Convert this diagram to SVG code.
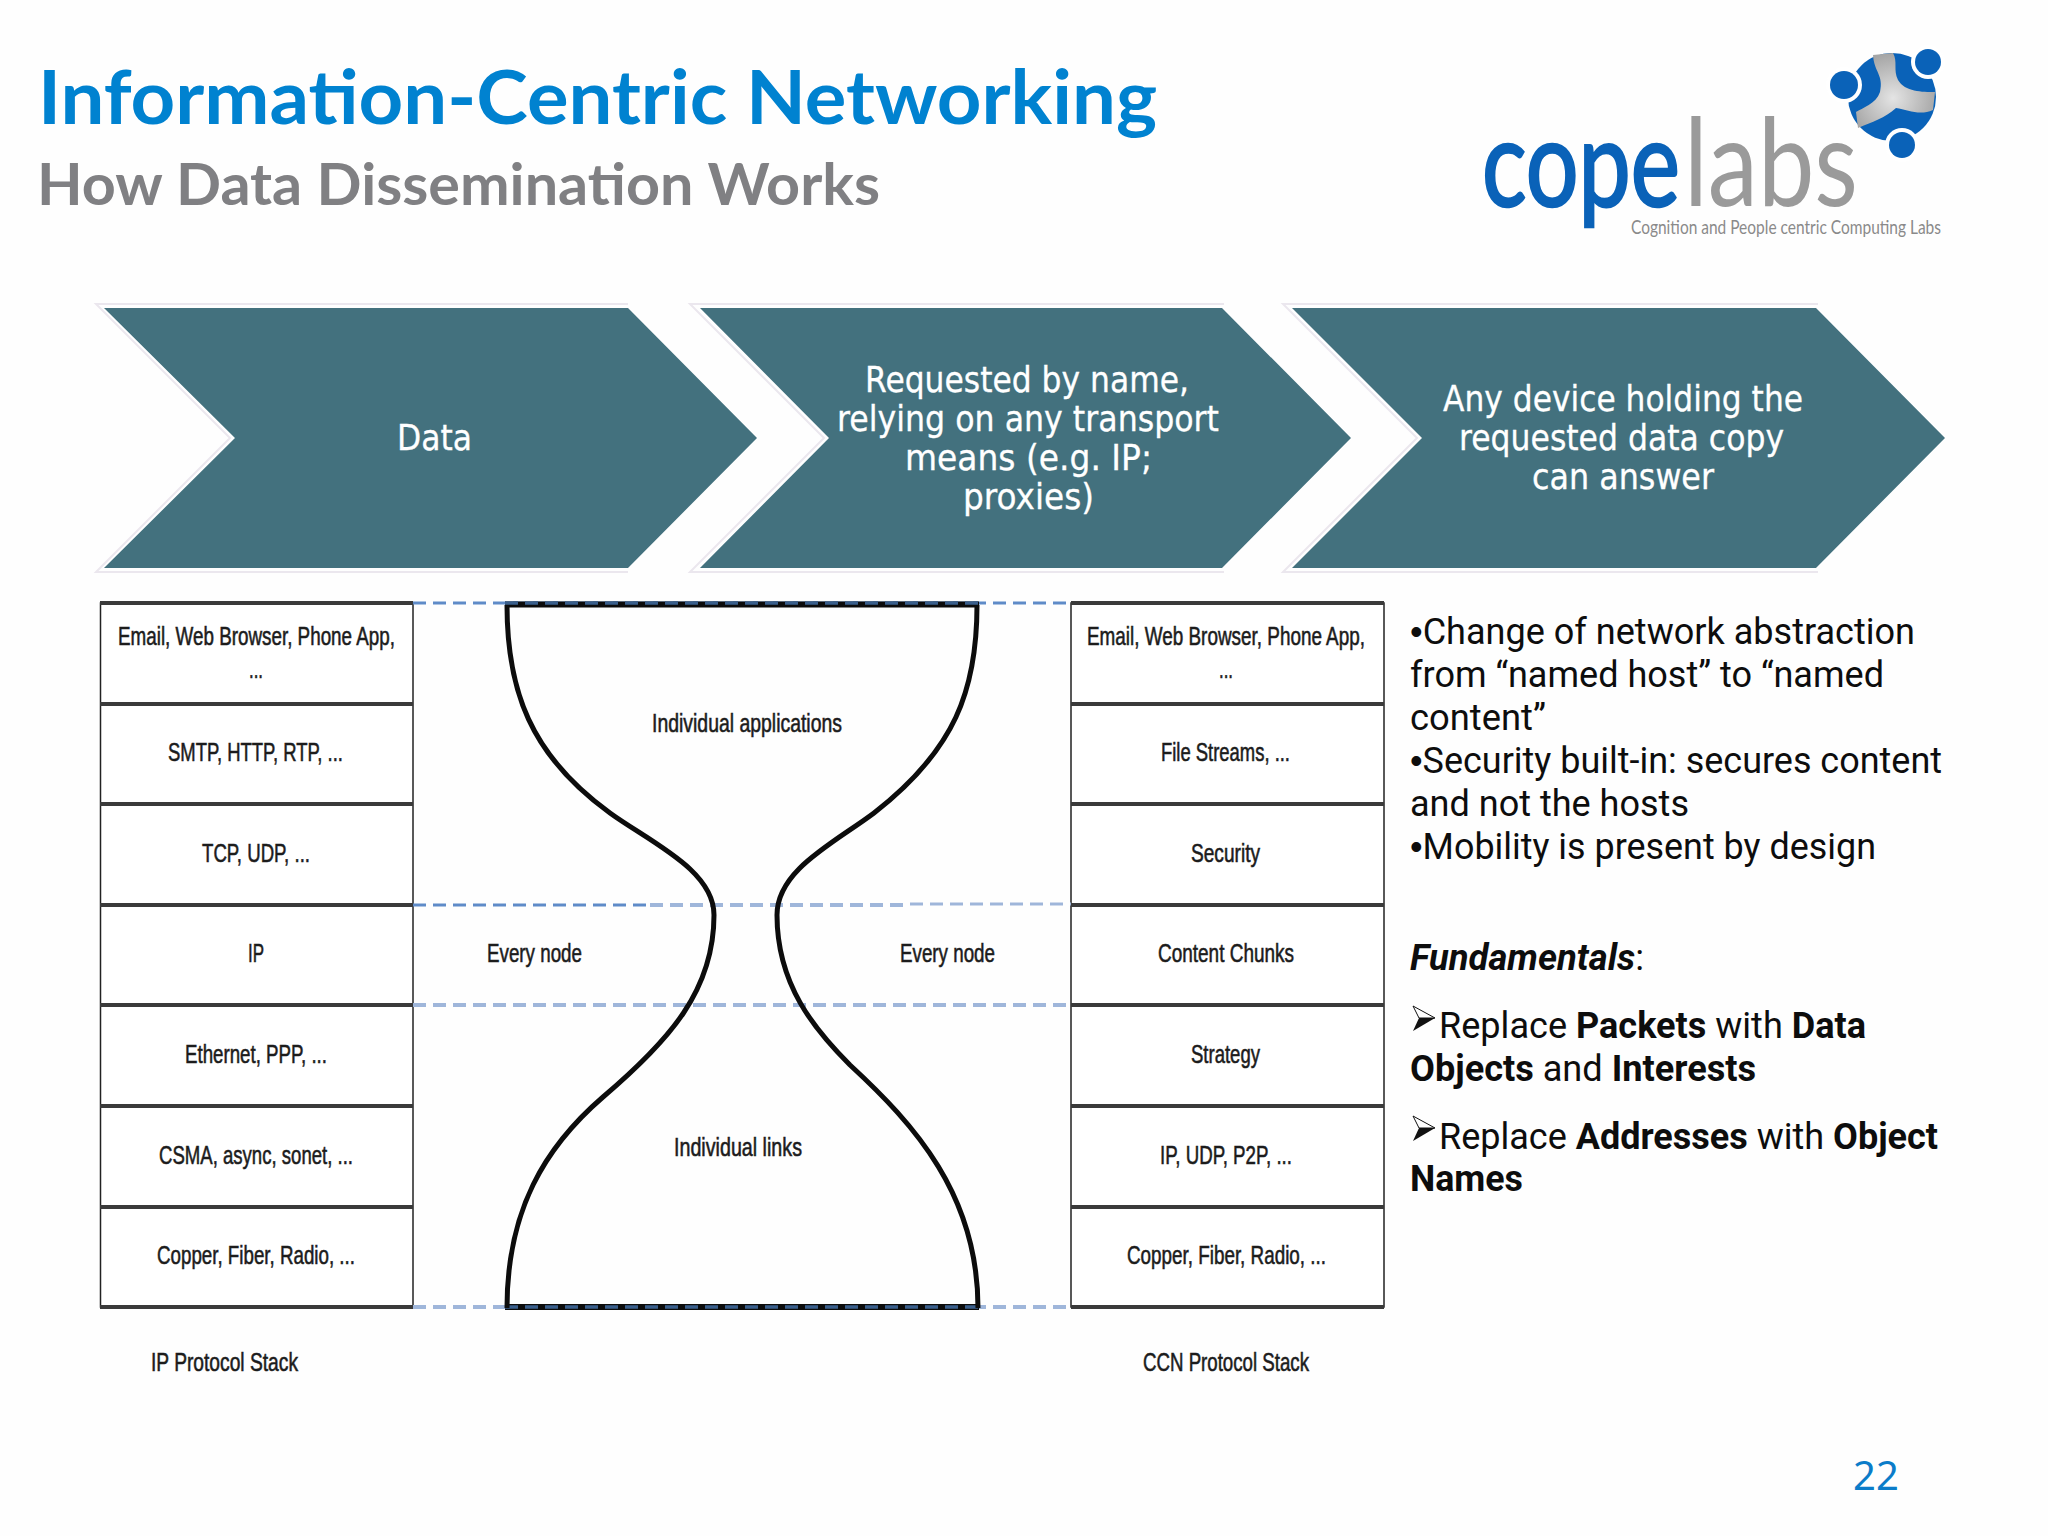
<svg xmlns="http://www.w3.org/2000/svg" width="2048" height="1536" viewBox="0 0 2048 1536">
<style>
.s{font-family:"Liberation Sans",Arial,sans-serif;font-size:25px;fill:#1c1c1c;stroke:#1c1c1c;stroke-width:.55}
.b{font-family:Roboto,sans-serif;font-size:36px;fill:#0d0d0d}
.bb{font-weight:700}
.bu{font-family:"Liberation Sans",sans-serif}
.c{font-family:"DejaVu Sans",sans-serif;font-size:35px;fill:#fff;stroke:#fff;stroke-width:.3}
.chev{fill:#43717e}
.frame{fill:none;stroke:#ebe7ee;stroke-width:2}
.box{fill:#fff;stroke:#222;stroke-width:1.5}
.rule{stroke:#3a3a3a;stroke-width:4}
.dash{stroke:#5f8bc8;stroke-width:3;stroke-dasharray:13 7;fill:none}
.dash2{stroke:#9fb6da;stroke-width:4;stroke-dasharray:13 7;fill:none}
.hg{fill:none;stroke:#0c0c0c;stroke-width:5}
</style>
<defs>
<radialGradient id="metal" gradientUnits="userSpaceOnUse" cx="1893" cy="98" r="44"><stop offset="0" stop-color="#e4e4e4"/><stop offset="1" stop-color="#a6a6a6"/></radialGradient>
</defs>
<rect width="2048" height="1536" fill="#fefefe"/>
<g id="title">
<text x="38" y="124" font-family="Lato,sans-serif" font-weight="700" font-size="75" fill="#0082d0" textLength="1119" lengthAdjust="spacingAndGlyphs">Information-Centric Networking</text>
<text x="37" y="205" font-family="Lato,sans-serif" font-weight="700" font-size="57" fill="#808083" textLength="843" lengthAdjust="spacingAndGlyphs">How Data Dissemination Works</text>
</g>
<g id="logo">
<circle cx="1892" cy="97" r="44" fill="#0a62b8"/>
<path d="M1873 55C1874 72 1884 75 1880 92C1876 104 1862 108 1856 112L1858 128C1872 122 1885 118 1896 108C1908 110 1920 116 1933 110L1935 92C1922 92 1905 92 1898 80C1893 70 1898 62 1893 53Z" fill="url(#metal)"/>
<circle cx="1844" cy="85" r="18" fill="#fff"/><circle cx="1844" cy="85" r="14" fill="#0a62b8"/>
<circle cx="1928" cy="62" r="17" fill="#fff"/><circle cx="1928" cy="62" r="13" fill="#0a62b8"/>
<circle cx="1902" cy="145" r="17" fill="#fff"/><circle cx="1902" cy="145" r="13" fill="#0a62b8"/>
<text x="1482" y="206" font-family="Lato,sans-serif" font-size="120" fill="#0a62b8" stroke="#0a62b8" stroke-width="2.500" textLength="198" lengthAdjust="spacingAndGlyphs">cope</text>
<text x="1684" y="206" font-family="Lato,sans-serif" font-size="122" fill="#9a9a9a" textLength="174" lengthAdjust="spacingAndGlyphs">labs</text>
<text x="1631" y="234" font-family="Lato,sans-serif" font-size="19" fill="#8a8a8a" textLength="310" lengthAdjust="spacingAndGlyphs">Cognition and People centric Computing Labs</text>
</g>
<g id="chevron-1"><polygon class="chev" points="104,308 628,308 757,438 628,568 104,568 235,438"/>
<path class="frame" d="M628 304H96L230 438L96 572H628"/>
<text class="c" x="397" y="450" textLength="75" lengthAdjust="spacingAndGlyphs">Data</text></g>
<g id="chevron-2"><polygon class="chev" points="700,308 1222,308 1351,438 1222,568 700,568 829,438"/>
<path class="frame" d="M1224 304H690L824 438L690 572H1224"/>
<text class="c" x="865" y="392" textLength="324" lengthAdjust="spacingAndGlyphs">Requested by name,</text>
<text class="c" x="837" y="431" textLength="382" lengthAdjust="spacingAndGlyphs">relying on any transport</text>
<text class="c" x="905" y="470" textLength="247" lengthAdjust="spacingAndGlyphs">means (e.g. IP;</text>
<text class="c" x="963" y="509" textLength="131" lengthAdjust="spacingAndGlyphs">proxies)</text></g>
<g id="chevron-3"><polygon class="chev" points="1292,308 1816,308 1945,438 1816,568 1292,568 1422,438"/>
<path class="frame" d="M1818 304H1283L1417 438L1283 572H1818"/>
<text class="c" x="1443" y="411" textLength="360" lengthAdjust="spacingAndGlyphs">Any device holding the</text>
<text class="c" x="1459" y="450" textLength="325" lengthAdjust="spacingAndGlyphs">requested data copy</text>
<text class="c" x="1532" y="489" textLength="182" lengthAdjust="spacingAndGlyphs">can answer</text></g>
<g id="ip-stack">
<rect class="box" x="100.500" y="603" width="312.500" height="704"/>
<path class="rule" d="M100 603H413M100 704H413M100 804H413M100 905H413M100 1005H413M100 1106H413M100 1207H413M100 1307H413"/>
<text class="s" x="118" y="645" textLength="277" lengthAdjust="spacingAndGlyphs">Email, Web Browser, Phone App,</text>
<text class="s" x="249" y="678" textLength="14" lengthAdjust="spacingAndGlyphs">...</text>
<text class="s" x="168" y="761" textLength="175" lengthAdjust="spacingAndGlyphs">SMTP, HTTP, RTP, ...</text>
<text class="s" x="202" y="862" textLength="108" lengthAdjust="spacingAndGlyphs">TCP, UDP, ...</text>
<text class="s" x="248" y="962" textLength="16" lengthAdjust="spacingAndGlyphs">IP</text>
<text class="s" x="185" y="1063" textLength="142" lengthAdjust="spacingAndGlyphs">Ethernet, PPP, ...</text>
<text class="s" x="159" y="1164" textLength="194" lengthAdjust="spacingAndGlyphs">CSMA, async, sonet, ...</text>
<text class="s" x="157" y="1264" textLength="198" lengthAdjust="spacingAndGlyphs">Copper, Fiber, Radio, ...</text>
<text class="s" x="151" y="1371" textLength="147" lengthAdjust="spacingAndGlyphs">IP Protocol Stack</text>
</g>
<g id="ccn-stack">
<rect class="box" x="1071" y="603" width="313" height="704"/>
<path class="rule" d="M1071 603H1384M1071 704H1384M1071 804H1384M1071 905H1384M1071 1005H1384M1071 1106H1384M1071 1207H1384M1071 1307H1384"/>
<text class="s" x="1087" y="645" textLength="278" lengthAdjust="spacingAndGlyphs">Email, Web Browser, Phone App,</text>
<text class="s" x="1219" y="678" textLength="14" lengthAdjust="spacingAndGlyphs">...</text>
<text class="s" x="1161" y="761" textLength="129" lengthAdjust="spacingAndGlyphs">File Streams, ...</text>
<text class="s" x="1191" y="862" textLength="69" lengthAdjust="spacingAndGlyphs">Security</text>
<text class="s" x="1158" y="962" textLength="136" lengthAdjust="spacingAndGlyphs">Content Chunks</text>
<text class="s" x="1191" y="1063" textLength="69" lengthAdjust="spacingAndGlyphs">Strategy</text>
<text class="s" x="1160" y="1164" textLength="132" lengthAdjust="spacingAndGlyphs">IP, UDP, P2P, ...</text>
<text class="s" x="1127" y="1264" textLength="199" lengthAdjust="spacingAndGlyphs">Copper, Fiber, Radio, ...</text>
<text class="s" x="1143" y="1371" textLength="166" lengthAdjust="spacingAndGlyphs">CCN Protocol Stack</text>
</g>
<g id="connectors">
<path class="dash" d="M413 603H1071"/>
<path class="dash" d="M413 905H650"/><path class="dash2" d="M650 905H910"/><path class="dash2" style="stroke-width:3" d="M910 904H1071"/>
<path class="dash2" d="M413 1005H1071"/>
<path class="dash2" d="M413 1307H1071"/>
</g>
<g id="hourglass">
<path d="M505 604.500H979M505 1307H979" stroke="#0c0c0c" stroke-width="6" fill="none"/>
<path d="M505 603H979M505 1307H979" stroke="#3a5f8c" stroke-width="3.500" stroke-dasharray="13 7" fill="none"/>
<path class="hg" d="M507 605C507 690 530 755 610 813C650 842 714 870 714 915C714 990 670 1040 603 1097C545 1147 507 1210 507 1308"/>
<path class="hg" d="M977 605C977 690 955 750 874 813C834 843 777 870 777 915C777 985 815 1030 850 1065C915 1125 978 1195 978 1308"/>
<text class="s" x="652" y="732" textLength="190" lengthAdjust="spacingAndGlyphs">Individual applications</text>
<text class="s" x="674" y="1156" textLength="128" lengthAdjust="spacingAndGlyphs">Individual links</text>
<text class="s" x="487" y="962" textLength="95" lengthAdjust="spacingAndGlyphs">Every node</text>
<text class="s" x="900" y="962" textLength="95" lengthAdjust="spacingAndGlyphs">Every node</text>
</g>
<g id="body">
<text class="b" x="1410" y="644" textLength="505" lengthAdjust="spacingAndGlyphs"><tspan class="bu">•</tspan>Change of network abstraction</text>
<text class="b" x="1410" y="687" textLength="474" lengthAdjust="spacingAndGlyphs">from “named host” to “named</text>
<text class="b" x="1410" y="730" textLength="136" lengthAdjust="spacingAndGlyphs">content”</text>
<text class="b" x="1410" y="773" textLength="532" lengthAdjust="spacingAndGlyphs"><tspan class="bu">•</tspan>Security built-in: secures content</text>
<text class="b" x="1410" y="816" textLength="279" lengthAdjust="spacingAndGlyphs">and not the hosts</text>
<text class="b" x="1410" y="859" textLength="466" lengthAdjust="spacingAndGlyphs"><tspan class="bu">•</tspan>Mobility is present by design</text>
<text class="b" x="1410" y="970" textLength="234" lengthAdjust="spacingAndGlyphs"><tspan class="bb" font-style="italic">Fundamentals</tspan>:</text>
<path d="M1413 1006L1435 1018L1419 1018Z" fill="#fff" stroke="#111" stroke-width="1"/><path d="M1413 1031L1435 1018L1419 1018Z" fill="#111"/>
<text class="b" x="1439" y="1038" textLength="427" lengthAdjust="spacingAndGlyphs">Replace <tspan class="bb">Packets</tspan> with <tspan class="bb">Data</tspan></text>
<text class="b" x="1410" y="1081" textLength="346" lengthAdjust="spacingAndGlyphs"><tspan class="bb">Objects</tspan> and <tspan class="bb">Interests</tspan></text>
<path d="M1413 1116L1435 1128L1419 1128Z" fill="#fff" stroke="#111" stroke-width="1"/><path d="M1413 1141L1435 1128L1419 1128Z" fill="#111"/>
<text class="b" x="1439" y="1149" textLength="499" lengthAdjust="spacingAndGlyphs">Replace <tspan class="bb">Addresses</tspan> with <tspan class="bb">Object</tspan></text>
<text class="b bb" x="1410" y="1191" textLength="113" lengthAdjust="spacingAndGlyphs">Names</text>
</g>
<text id="page-number" x="1853" y="1490" font-family="Noto Sans,sans-serif" font-size="40" fill="#0b7cc9">22</text>
</svg>
